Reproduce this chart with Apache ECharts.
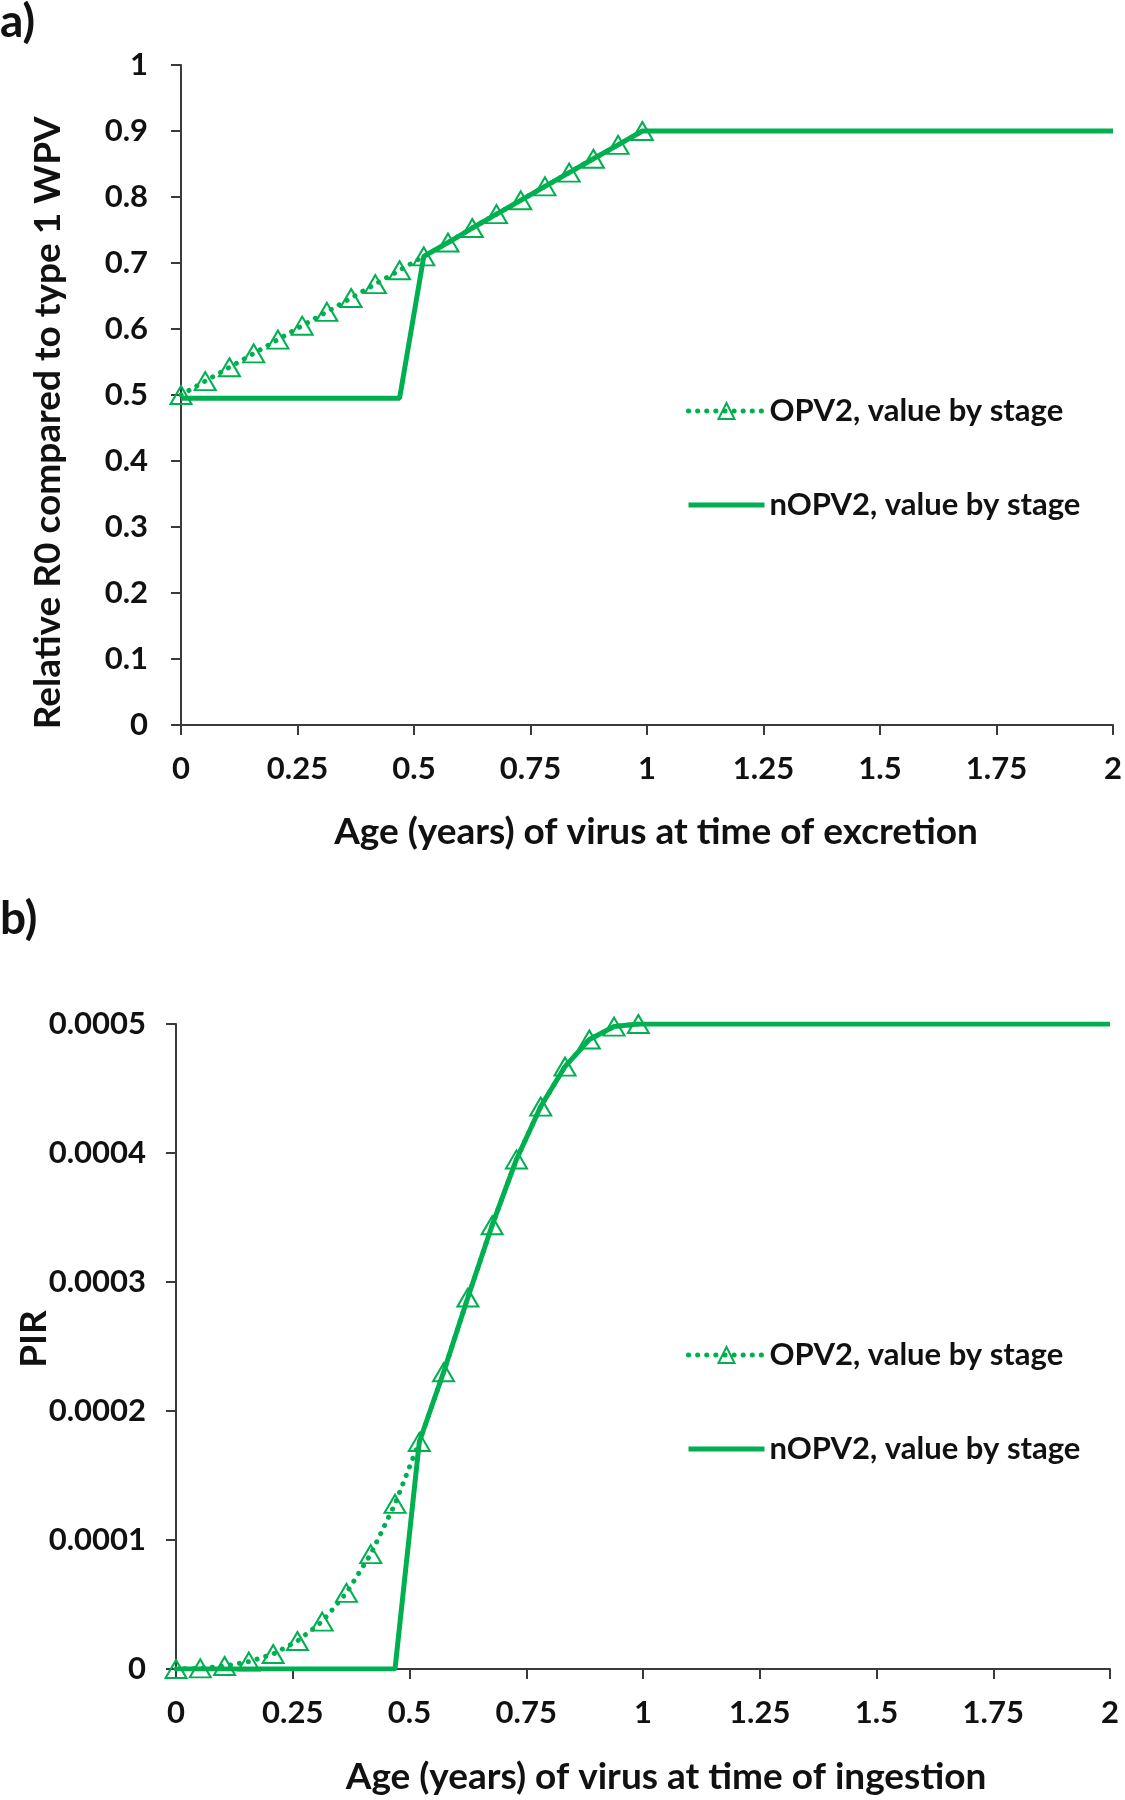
<!DOCTYPE html>
<html><head><meta charset="utf-8">
<script src="https://cdn.jsdelivr.net/npm/echarts@6/dist/echarts.min.js"></script>
<style>html,body{margin:0;padding:0;background:#fff}#c{width:1125px;height:1800px}</style>
</head><body><div id="c"></div>
<script>
// Stage ages (years) for OPV2 markers
const stageAges = [0, 0.052, 0.104, 0.156, 0.208, 0.26, 0.313, 0.365, 0.417, 0.469, 0.521, 0.573, 0.625, 0.677, 0.729, 0.781, 0.833, 0.885, 0.938, 0.99];
// Panel a: relative R0
const r0Opv2 = [0.5, 0.521, 0.542, 0.563, 0.584, 0.605, 0.626, 0.647, 0.668, 0.689, 0.71, 0.731, 0.753, 0.774, 0.795, 0.816, 0.837, 0.858, 0.879, 0.9];
const r0NopvAges = [0, 0.469, 0.521, 0.573, 0.625, 0.677, 0.729, 0.781, 0.833, 0.885, 0.938, 0.99, 2];
const r0Nopv2 = [0.495, 0.495, 0.71, 0.731, 0.753, 0.774, 0.795, 0.816, 0.837, 0.858, 0.879, 0.9, 0.9];
// Panel b: PIR
const pirOpv2 = [0, 0.0000005, 0.0000023, 0.0000057, 0.0000116, 0.0000217, 0.0000367, 0.000059, 0.000089, 0.000128, 0.000176, 0.00023, 0.000288, 0.000344, 0.000395, 0.000436, 0.000467, 0.000488, 0.000498, 0.0005];
const pirNopvAges = [0, 0.469, 0.521, 0.573, 0.625, 0.677, 0.729, 0.781, 0.833, 0.885, 0.938, 0.99, 2];
const pirNopv2 = [0, 0, 0.000176, 0.00023, 0.000288, 0.000344, 0.000395, 0.000436, 0.000467, 0.000488, 0.000498, 0.0005, 0.0005];
// Axis ticks
const xTicks = ['0', '0.25', '0.5', '0.75', '1', '1.25', '1.5', '1.75', '2'];
const names = ['OPV2, value by stage', 'nOPV2, value by stage'];

const GREEN = '#00B050';
const FONT = 'Lato';
const zip = (a, b) => a.map((v, i) => [v, b[i]]);
const DOT = {color: GREEN, width: 5, type: [0.1, 9], cap: 'round'};

const axisCommon = {
  axisLine: {show: true, lineStyle: {color: '#3a3a3a', width: 2}},
  axisTick: {show: true, inside: false, length: 10, lineStyle: {color: '#3a3a3a', width: 2}},
  splitLine: {show: false},
};
const tickFont = {fontSize: 31, fontWeight: 'bold', fontFamily: FONT, color: '#111'};
function xAxis(gi) {
  return Object.assign({}, axisCommon, {
    type: 'value', gridIndex: gi, min: 0, max: 2, interval: 0.25,
    axisLabel: Object.assign({margin: 28, formatter: v => xTicks[Math.round(v / 0.25)]}, tickFont)
  });
}
function opvSeries(xi, data) {
  return {
    name: names[0], type: 'line', xAxisIndex: xi, yAxisIndex: xi, data: data,
    symbol: 'triangle', symbolSize: [21, 18], showAllSymbol: true,
    lineStyle: DOT,
    itemStyle: {color: 'rgba(255,255,255,0)', borderColor: GREEN, borderWidth: 2},
    z: 3, animation: false
  };
}
function nopvSeries(xi, data) {
  return {
    name: names[1], type: 'line', xAxisIndex: xi, yAxisIndex: xi, data: data,
    symbol: 'none', lineStyle: {color: GREEN, width: 5}, itemStyle: {color: GREEN},
    z: 2, animation: false
  };
}
function legend(top) {
  return {
    data: [
      {name: names[0], lineStyle: DOT},
      {name: names[1], itemStyle: {opacity: 0}, lineStyle: {color: GREEN, width: 5}}
    ],
    orient: 'vertical', left: 686, top: top, padding: 0, itemWidth: 76, itemHeight: 20, itemGap: 60,
    textStyle: {fontSize: 31, fontWeight: 'bold', fontFamily: FONT, color: '#111', lineHeight: 34},
    selectedMode: false
  };
}
const titleFont = 'bold 37px ' + FONT;
const option = {
  backgroundColor: '#fff',
  animation: false,
  grid: [
    {left: 181, top: 65, width: 936, height: 660},
    {left: 176, top: 1024, width: 934, height: 645}
  ],
  xAxis: [xAxis(0), xAxis(1)],
  yAxis: [
    Object.assign({}, axisCommon, {type: 'value', gridIndex: 0, min: 0, max: 1, interval: 0.1,
      axisLabel: Object.assign({margin: 33, formatter: v => (Math.round(v * 10) / 10).toString()}, tickFont)}),
    Object.assign({}, axisCommon, {type: 'value', gridIndex: 1, min: 0, max: 0.0005, interval: 0.0001,
      axisLabel: Object.assign({margin: 30, formatter: v => v === 0 ? '0' : v.toFixed(4)}, tickFont)})
  ],
  legend: [legend(394), legend(1338)],
  series: [
    nopvSeries(0, zip(r0NopvAges, r0Nopv2)),
    opvSeries(0, zip(stageAges, r0Opv2)),
    nopvSeries(1, zip(pirNopvAges, pirNopv2)),
    opvSeries(1, zip(stageAges, pirOpv2))
  ],
  graphic: [
    {type: 'text', x: 0, y: 22, style: {text: 'a)', font: 'bold 46px ' + FONT, fill: '#111', textVerticalAlign: 'middle'}},
    {type: 'text', x: 0, y: 919, style: {text: 'b)', font: 'bold 46px ' + FONT, fill: '#111', textVerticalAlign: 'middle'}},
    {type: 'text', x: 656, y: 832, style: {text: 'Age (years) of virus at time of excretion', font: titleFont, fill: '#111', textAlign: 'center', textVerticalAlign: 'middle'}},
    {type: 'text', x: 666, y: 1777, style: {text: 'Age (years) of virus at time of ingestion', font: titleFont, fill: '#111', textAlign: 'center', textVerticalAlign: 'middle'}},
    {type: 'text', x: 48, y: 423, rotation: Math.PI / 2, style: {text: 'Relative R0 compared to type 1 WPV', font: titleFont, fill: '#111', textAlign: 'center', textVerticalAlign: 'middle'}},
    {type: 'text', x: 34, y: 1339, rotation: Math.PI / 2, style: {text: 'PIR', font: titleFont, fill: '#111', textAlign: 'center', textVerticalAlign: 'middle'}}
  ]
};
const chart = echarts.init(document.getElementById('c'), null, {renderer: 'canvas'});
chart.setOption(option);
</script>
</body></html>
